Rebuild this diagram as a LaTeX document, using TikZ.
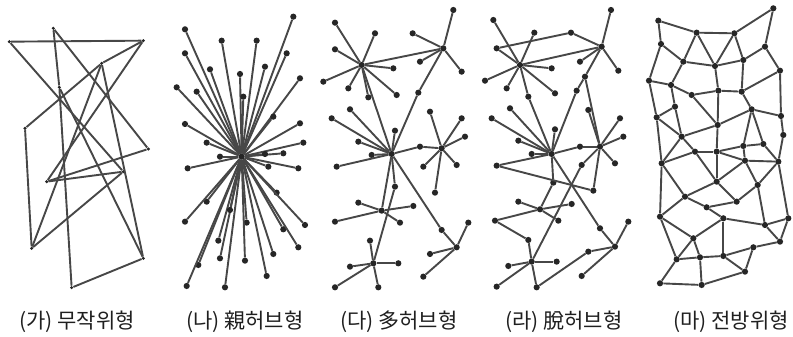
\documentclass[tikz,border=0pt]{standalone}
\usepackage{fontspec}
\newfontfamily\krfont{Noto Sans CJK KR}
\usetikzlibrary{positioning}

\tikzset{
 dot/.style={circle,fill=black!85,inner sep=0pt,minimum size=6.2pt},
 sdot/.style={circle,fill=black!85,inner sep=0pt,minimum size=3.4pt},
 link/.style={draw=black!72,line width=1.9pt},
 lab/.style={font=\krfont\fontsize{21}{25}\selectfont,text=black!88,inner sep=0pt}
}

\begin{document}
\begin{tikzpicture}[x=1pt,y=-1pt]
 \useasboundingbox (0,0) rectangle (793,337);
 % (ga) random
 \begin{scope}[x=0.3333pt,y=-0.3333pt]
  \foreach \n/\x/\y in {1/28/125,2/430/122,3/160/85,4/305/190,5/178/262,6/75/385,
    8/445/447,9/370/515,10/140/545,11/95/745,12/430/775,13/215/863}
   \node[sdot] (a\n) at (\x,\y) {};
  \foreach \a/\b in {1/2,1/9,3/5,5/13,3/8,2/4,4/6,2/10,6/11,11/9,11/4,10/9,10/8,
    5/12,12/13,4/12}
   \draw[link] (a\a) -- (a\b);
 \end{scope}
 % (na) single hub
 \begin{scope}[xshift=165pt,x=0.3333pt,y=-0.3333pt]
  \node[dot] (b0) at (230,470) {};
  \foreach \n/\x/\y in {1/60/88,2/170/122,3/275/122,4/385/50,5/60/160,6/365/160,
    7/135/208,8/225/222,9/300/200,10/405/235,11/35/262,12/95/275,13/235/290,
    14/60/372,15/325/350,16/405/370,17/125/428,18/415/428,19/355/460,20/165/470,
    21/300/462,22/68/505,23/310/500,24/400/505,25/125/605,26/335/578,27/60/665,
    28/245/668,29/355/688,30/420/675,31/160/722,32/400/742,33/325/762,34/100/795,
    35/165/775,36/240/782,37/305/828,38/65/858,39/180/862,40/195/630}
  {
   \node[dot] (b\n) at (\x,\y) {};
   \draw[link] (b0) -- (b\n);
  }
 \end{scope}
 % (da) several hubs
 \begin{scope}[xshift=320pt,x=0.3333pt,y=-0.3333pt]
  \foreach \n/\x/\y in {s1/125/195,s2/370/145,h/215/462,s3/365/445,s4/185/632,
    s5/410/742,s6/160/790,m1/295/278,m2/300/440,m3/365/690,m4/225/560,
    1/45/68,2/165/100,3/45/148,4/10/245,5/85/265,6/145/292,7/220/205,8/230/285,
    9/400/30,10/278/100,11/425/215,12/300/185,
    13/35/355,14/90/328,15/115/425,16/155/465,17/225/392,18/50/500,
    19/330/335,20/425/355,21/435/410,22/410/495,23/310/500,24/345/578,
    25/445/668,26/330/762,27/310/830,
    28/115/608,29/45/665,30/280/618,31/240/668,
    32/150/722,33/90/800,34/235/790,35/45/862,36/175/862}
   \node[dot] (c\n) at (\x,\y) {};
  \foreach \a/\b in {s1/1,s1/2,s1/3,s1/4,s1/5,s1/6,s1/7,s1/8,
    s2/9,s2/10,s2/11,s2/12,h/13,h/14,h/15,h/16,h/17,h/18,
    s3/19,s3/20,s3/21,s3/22,s3/23,s3/24,s5/25,s5/26,s5/27,
    s4/28,s4/29,s4/30,s4/31,s6/32,s6/33,s6/34,s6/35,s6/36,
    s1/s2,s1/h,s2/m1,m1/h,h/m2,m2/s3,h/m3,m3/s5,h/m4,m4/s6,h/s4}
   \draw[link] (c\a) -- (c\b);
 \end{scope}
 % (ra) hubs dissolving
 \begin{scope}[xshift=485pt,x=0.3333pt,y=-0.3333pt]
  \foreach \n/\x/\y in {s1/105/195,s2/350/140,h/200/462,s3/345/440,s4/165/628,
    s5/390/740,s6/140/785,m1/258/98,m2/300/230,m3/285/440,m4/345/685,
    m5/205/548,m6/130/720,
    1/25/60,2/148/98,3/35/145,4/0/242,5/65/265,6/130/290,7/200/205,8/210/280,
    9/378/30,10/400/212,11/285/185,12/275/272,
    13/20/355,14/75/325,15/100/422,16/140/462,17/210/388,18/35/497,
    19/310/330,20/405/355,21/415/410,22/390/490,23/290/495,24/325/572,
    25/430/665,26/310/755,27/290/828,
    28/100/605,29/30/662,30/260/612,31/220/662,
    32/70/798,33/215/785,34/35/860,35/155/862}
   \node[dot] (d\n) at (\x,\y) {};
  \foreach \a/\b in {s1/1,s1/2,s1/4,s1/5,s1/6,s1/7,s1/8,s1/3,
    s2/9,s2/10,s2/11,h/13,h/14,h/15,h/16,h/17,h/18,
    s3/19,s3/20,s3/21,s3/22,s3/23,s3/24,s5/25,s5/26,s5/27,
    s4/28,s4/29,s4/30,s4/31,s6/32,s6/33,s6/34,s6/35,
    3/m1,m1/s2,s1/s2,s2/m2,m2/12,12/h,m2/s3,6/h,h/m3,m3/s3,h/m4,m4/s5,
    h/m5,m5/s4,18/24,29/m6,m6/s6,35/26,23/s6}
   \draw[link] (d\a) -- (d\b);
 \end{scope}
 % (ma) mesh
 \begin{scope}[xshift=635pt,x=0.3333pt,y=-0.3333pt]
  \foreach \n/\x/\y in {1/70/62,2/185/98,3/298/100,4/415/25,
    5/78/132,6/145/185,7/240/198,8/325/180,9/390/140,10/435/212,
    11/42/242,12/108/255,13/170/285,14/250/272,15/320/275,
    16/120/320,17/65/352,18/350/328,19/438/348,
    20/248/375,21/140/410,22/445/405,
    23/180/455,24/245/455,25/325/438,26/385/432,
    27/80/490,28/330/482,29/430/485,30/245/545,31/368/555,
    32/150/590,33/305/605,34/215/622,
    35/75/650,36/265/655,37/460/655,38/390/675,
    39/175/715,40/435/725,41/125/778,42/195/772,43/265/768,44/355/742,
    45/330/815,46/75/850,47/200/855}
   \node[dot] (e\n) at (\x,\y) {};
  \foreach \a/\b in {1/2,2/3,3/4,1/5,2/6,2/7,3/7,3/8,4/9,5/6,6/7,7/8,8/9,9/10,
    5/11,6/12,11/12,11/17,12/13,12/16,13/14,14/15,7/14,8/15,15/10,13/20,14/20,
    10/19,15/18,18/19,16/17,17/21,16/21,20/18,20/21,18/25,18/26,19/22,21/23,
    20/24,23/24,24/25,25/26,17/27,21/27,23/27,24/28,25/28,28/29,22/29,26/29,
    23/30,24/30,28/30,29/31,28/31,27/32,30/32,27/35,32/34,32/35,31/33,30/33,
    34/33,34/36,36/38,31/38,29/37,37/38,38/40,37/40,35/39,36/39,36/43,39/41,
    39/42,35/41,41/42,42/43,43/44,44/40,43/45,44/45,41/46,46/47,42/47,47/45}
   \draw[link] (e\a) -- (e\b);
 \end{scope}
 % captions
 \node[lab] (l1) at (77,322) {(가) 무작위형};
 \node[lab] (l2) at (245,322) {(나) 親허브형};
 \node[lab] (l3) at (399,322) {(다) 多허브형};
 \node[lab] (l4) at (564,322) {(라) 脫허브형};
 \node[lab] (l5) at (731,322) {(마) 전방위형};
\end{tikzpicture}
\end{document}
